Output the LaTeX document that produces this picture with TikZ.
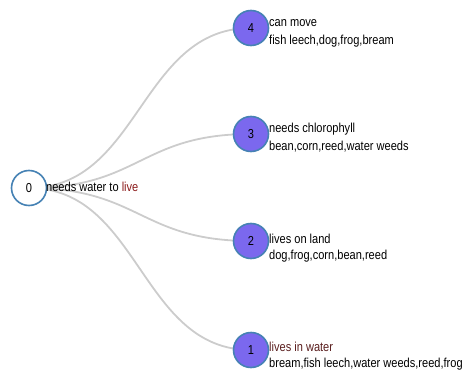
\documentclass[tikz,border=0pt]{standalone}
\usepackage{fontspec}
\setmainfont{Liberation Sans}[FakeStretch=0.85]
\definecolor{nodefill}{HTML}{7B68EE}
\definecolor{nodeline}{HTML}{4682B4}
\definecolor{linkgray}{HTML}{CCCCCC}
\definecolor{redtext}{HTML}{8B1A1A}
\definecolor{darkred}{HTML}{5A1E1E}
\begin{document}
\begin{tikzpicture}[x=1pt,y=-1pt,
  treenode/.style={circle,draw=nodeline,line width=1.6pt,minimum size=35pt,inner sep=0pt,font=\fontsize{13}{15}\selectfont},
  leafnode/.style={treenode,fill=nodefill},
  rootnode/.style={treenode,fill=white},
  link/.style={draw=linkgray,line width=1.8pt},
  lbl/.style={anchor=base west,inner sep=0pt,font=\fontsize{13}{15}\selectfont}]
\useasboundingbox (0,0) rectangle (462,371);
\clip (0,0) rectangle (462,371);
\coordinate (r) at (29,188);
\coordinate (c4) at (251,28);
\coordinate (c3) at (251,134);
\coordinate (c2) at (251,241);
\coordinate (c1) at (251,350);
\foreach \c/\y in {c4/28,c3/134,c2/241,c1/350}{
  \draw[link] (r) .. controls (140,188) and (140,\y) .. (\c);
}
\node[rootnode] (n0) at (r) {0};
\node[leafnode] (n4) at (c4) {4};
\node[leafnode] (n3) at (c3) {3};
\node[leafnode] (n2) at (c2) {2};
\node[leafnode] (n1) at (c1) {1};
\node[lbl] (t0) at (46,192) {needs water to \textcolor{redtext}{live}};
\node[lbl] (t4a) at (269,27) {can move};
\node[lbl] (t4b) at (269,45) {fish leech,dog,frog,bream};
\node[lbl] (t3a) at (269,133) {needs chlorophyll};
\node[lbl] (t3b) at (269,151) {bean,corn,reed,water weeds};
\node[lbl] (t2a) at (269,243) {lives on land};
\node[lbl] (t2b) at (269,259) {dog,frog,corn,bean,reed};
\node[lbl] (t1a) at (269,351) {\textcolor{darkred}{lives in water}};
\node[lbl] (t1b) at (269,367) {bream,fish leech,water weeds,reed,frog};
\end{tikzpicture}
\end{document}
